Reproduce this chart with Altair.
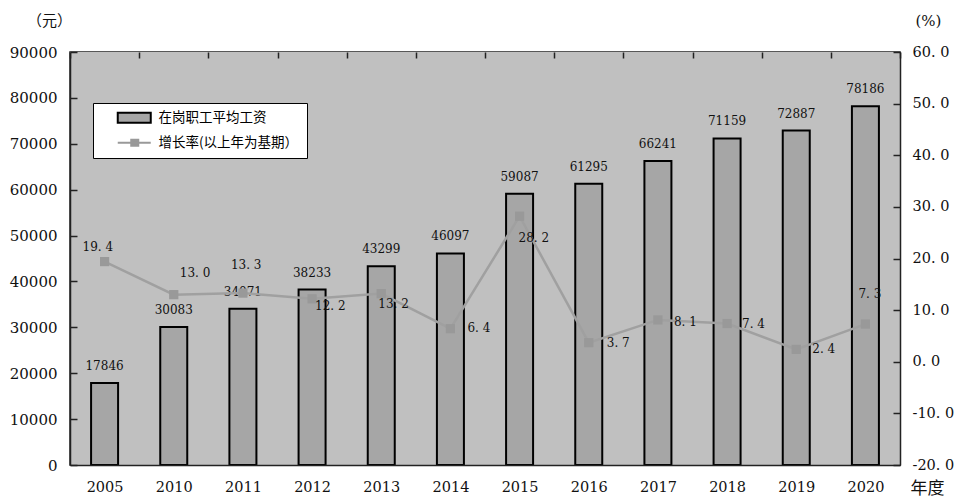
import altair as alt
import pandas as pd

years = ["2005", "2010", "2011", "2012", "2013", "2014", "2015", "2016", "2017", "2018", "2019", "2020"]
wages = [17846, 30083, 34071, 38233, 43299, 46097, 59087, 61295, 66241, 71159, 72887, 78186]
growth = [19.4, 13.0, 13.3, 12.2, 13.2, 6.4, 28.2, 3.7, 8.1, 7.4, 2.4, 7.3]
series_names = ["在岗职工平均工资", "增长率(以上年为基期）"]
left_ticks = [0, 10000, 20000, 30000, 40000, 50000, 60000, 70000, 80000, 90000]
right_ticks = [-20, -10, 0, 10, 20, 30, 40, 50, 60]

df = pd.DataFrame({"year": years, "wage": wages, "growth": growth})
legend_df = pd.DataFrame({"series": series_names})
bg_df = pd.DataFrame({"lo": [left_ticks[0]], "hi": [left_ticks[-1]]})

# label placement offsets (style only)
label_offsets = {
    "2005": (-22, -15), "2010": (6, -22), "2011": (-12, -28), "2012": (3, 7),
    "2013": (-3, 10), "2014": (17, -1), "2015": (-1, 22), "2016": (18, 0),
    "2017": (16, 2), "2018": (15, 0), "2019": (16, 0), "2020": (-7, -30),
}

PLOT_BG = "#c0c0c0"
BAR_FILL = "#a6a6a6"
LINE_COL = "#a0a0a0"
PT_COL = "#999999"
SERIF = "DejaVu Serif"
CJK = "Noto Sans CJK SC"

x_axis = alt.Axis(
    title="年度", labelAngle=0, labelFont=SERIF, labelFontSize=14.5, labelColor="#111111",
    labelPadding=15, labelBaseline="top", tickBand="extent", ticks=False, zindex=1,
    grid=True, gridColor="#222222", gridWidth=1.5, gridDash=[6, 2000],
    titleAngle=0, titleX=857, titleY=23, titleAlign="center", titleBaseline="middle",
    titleFont=CJK, titleFontSize=17, titleFontWeight="normal", titleColor="#111111",
    domainColor="#222222", domainWidth=1.5,
)
x_enc = alt.X("year:N", sort=years, scale=alt.Scale(paddingInner=0, paddingOuter=0), axis=x_axis)

left_axis = alt.Axis(
    values=left_ticks, format="d", title="（元）", ticks=False, labelPadding=13, zindex=1,
    labelFont=SERIF, labelFontSize=15, labelColor="#111111",
    grid=True, gridColor="#222222", gridWidth=1.5, gridDash=[7, 2000],
    titleAngle=0, titleX=-21, titleY=-32, titleAlign="center", titleBaseline="middle",
    titleFont=CJK, titleFontSize=15, titleFontWeight="normal", titleColor="#111111",
    domainColor="#222222", domainWidth=1.5,
)
right_axis = alt.Axis(
    orient="right", values=right_ticks, title="(%)", ticks=False, labelPadding=12, zindex=1,
    labelExpr="replace(replace(format(datum.value, '.1f'), '.', '. '), '\u2212', '-')",
    labelFont=SERIF, labelFontSize=14.5, labelColor="#111111",
    grid=True, gridColor="#222222", gridWidth=1.5, gridDash=[7, 2000],
    titleAngle=0, titleX=28, titleY=-32, titleAlign="center", titleBaseline="middle",
    titleFont=SERIF, titleFontSize=15, titleFontWeight="normal", titleColor="#111111",
    domainColor="#222222", domainWidth=1.5,
)
y_left_scale = alt.Scale(domain=[0, 90000], nice=False, zero=True)
y_left = alt.Y("wage:Q", scale=y_left_scale, axis=left_axis)
y_right = alt.Y("growth:Q", scale=alt.Scale(domain=[-20, 60], nice=False, zero=False), axis=right_axis)

bar_path = "M-1,-1H5.6V1H-1Z"
line_path = "M-1,0H5.6M1.7,-0.6H3.1V0.6H1.7Z"
legend = alt.Legend(
    title=None, orient="none", legendX=23, legendY=51, direction="vertical",
    fillColor="white", strokeColor="black", padding=8, rowPadding=8,
    symbolSize=100, symbolOffset=15, labelOffset=29, symbolOpacity=1, symbolStrokeWidth=2,
    labelFont=CJK, labelFontSize=13.5, labelColor="black",
)

base = alt.Chart(df)

# plot-area background (spans full width; y from the left scale's extent)
bg = alt.Chart(bg_df).mark_rect(fill=PLOT_BG).encode(
    y=alt.Y("lo:Q", scale=y_left_scale, axis=left_axis), y2="hi:Q",
)
bars = base.mark_bar(size=27, stroke="black", strokeWidth=2, fill=BAR_FILL).encode(x=x_enc, y=y_left)
bar_text = base.mark_text(font=SERIF, fontSize=12, color="#111111", baseline="middle", dy=-17).encode(
    x=x_enc, y=y_left, text=alt.Text("wage:Q", format="d"),
)
legend_layer = alt.Chart(legend_df).mark_point(filled=True, opacity=0, size=100).encode(
    shape=alt.Shape("series:N", scale=alt.Scale(domain=series_names, range=[bar_path, line_path]), legend=legend),
    fill=alt.Fill("series:N", scale=alt.Scale(domain=series_names, range=[BAR_FILL, PT_COL]), legend=legend),
    stroke=alt.Stroke("series:N", scale=alt.Scale(domain=series_names, range=["#000000", PT_COL]), legend=legend),
)
left = alt.layer(bg, bars, bar_text, legend_layer)

line = base.mark_line(color=LINE_COL, strokeWidth=2.5).encode(x=x_enc, y=y_right)
points = base.mark_point(shape="square", filled=True, size=85, color=PT_COL, opacity=1).encode(x=x_enc, y=y_right)
label_layers = []
for yr in years:
    dx, dy = label_offsets[yr]
    label_layers.append(
        base.transform_filter(alt.datum.year == yr)
        .transform_calculate(lab="replace(format(datum.growth, '.1f'), '.', '. ')")
        .mark_text(font=SERIF, fontSize=12, color="#111111", align="left", baseline="middle", dx=dx, dy=dy)
        .encode(x=x_enc, y=y_right, text="lab:N")
    )
right = alt.layer(line, points, *label_layers)

chart = (
    alt.layer(left, right)
    .resolve_scale(y="independent")
    .properties(
        width=830, height=413,
        autosize=alt.AutoSizeParams(type="none"),
        padding={"left": 62, "top": 44, "right": 55, "bottom": 33},
    )
    .configure_view(fill=PLOT_BG, stroke="#222222", strokeWidth=1.5)
)

chart.save("out.html", embed_options={"renderer": "svg", "actions": False})
